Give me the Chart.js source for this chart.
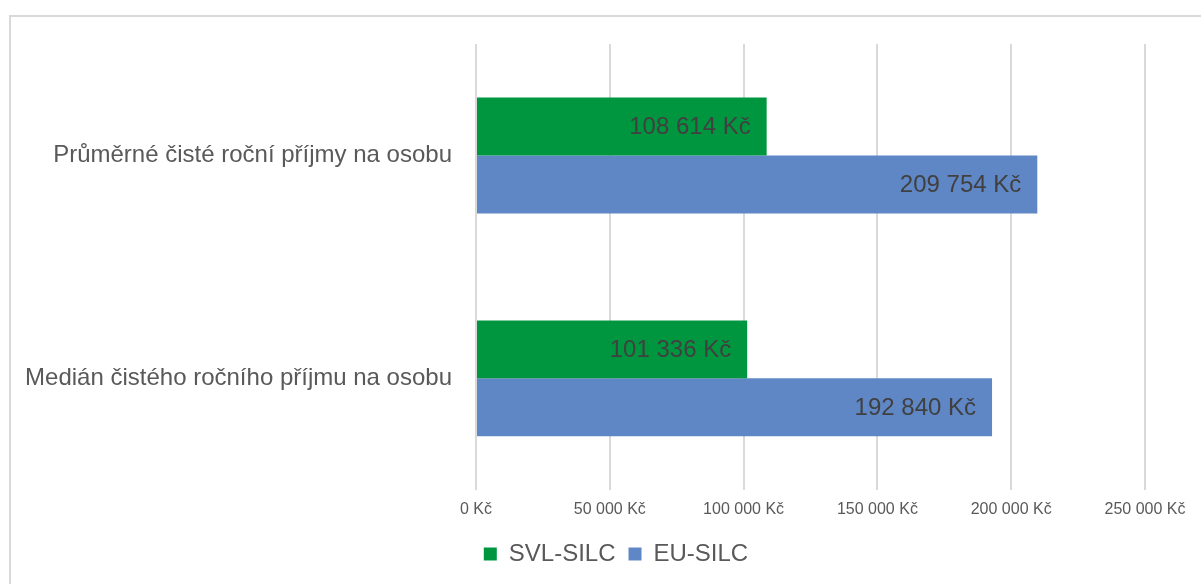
<!DOCTYPE html>
<html>
<head>
<meta charset="utf-8">
<script src="https://cdn.jsdelivr.net/npm/chart.js@4/dist/chart.umd.min.js"></script>
<style>
  html, body { margin: 0; padding: 0; background: #ffffff; overflow: hidden; }
  #frame { position: absolute; left: 9px; top: 15px; width: 1300px; height: 700px; border: 2px solid #d9d9d9; box-sizing: border-box; }
  #wrap { position: absolute; left: 0; top: 0; width: 1201px; height: 584px; }
</style>
</head>
<body>
<div id="frame"></div>
<div id="wrap"><canvas id="c" width="1201" height="584"></canvas></div>
<script>
const categories = ["Průměrné čisté roční příjmy na osobu", "Medián čistého ročního příjmu na osobu"];
const seriesNames = ["SVL-SILC", "EU-SILC"];
const svlValues = [108614, 101336];
const euValues = [209754, 192840];
const axisMax = 250000;
const axisStep = 50000;

function fmtKc(v) {
  return String(Math.round(v)).replace(/\B(?=(\d{3})+(?!\d))/g, " ") + " Kč";
}

const labelPlugin = {
  id: 'barLabels',
  afterDatasetsDraw(chart) {
    const ctx = chart.ctx;
    ctx.save();
    ctx.font = '24px "Liberation Sans", Arial, sans-serif';
    ctx.fillStyle = '#404040';
    ctx.textAlign = 'right';
    ctx.textBaseline = 'middle';
    chart.data.datasets.forEach((ds, i) => {
      const meta = chart.getDatasetMeta(i);
      meta.data.forEach((bar, j) => {
        ctx.fillText(fmtKc(ds.data[j]), bar.x - 16, bar.y + 1);
      });
    });
    ctx.restore();
  }
};

new Chart(document.getElementById('c'), {
  type: 'bar',
  data: {
    labels: categories,
    datasets: [
      { label: seriesNames[0], data: svlValues, backgroundColor: '#00963f' },
      { label: seriesNames[1], data: euValues, backgroundColor: '#5f87c5' }
    ]
  },
  options: {
    indexAxis: 'y',
    responsive: false,
    animation: false,
    devicePixelRatio: 1,
    layout: { padding: { left: 87, right: 56, top: 44, bottom: 8 } },
    datasets: { bar: { categoryPercentage: 0.52, barPercentage: 1.0 } },
    plugins: {
      legend: {
        position: 'bottom',
        labels: {
          font: { family: '"Liberation Sans", Arial, sans-serif', size: 24 },
          color: '#595959',
          boxWidth: 13,
          boxHeight: 13,
          padding: 13
        }
      },
      tooltip: { enabled: false }
    },
    scales: {
      x: {
        min: 0,
        max: axisMax,
        ticks: {
          stepSize: axisStep,
          padding: 10,
          color: '#595959',
          font: { family: '"Liberation Sans", Arial, sans-serif', size: 16 },
          callback: v => fmtKc(v),
          maxRotation: 0
        },
        grid: { color: '#d9d9d9', lineWidth: 2, drawTicks: false },
        border: { display: false }
      },
      y: {
        afterFit(scale) {
          scale.width = 389;
          scale._computeLabelArea = () => undefined;
        },
        ticks: {
          padding: 16,
          color: '#595959',
          font: { family: '"Liberation Sans", Arial, sans-serif', size: 24 }
        },
        grid: { display: false },
        border: { display: false }
      }
    }
  },
  plugins: [labelPlugin]
});
</script>
</body>
</html>
